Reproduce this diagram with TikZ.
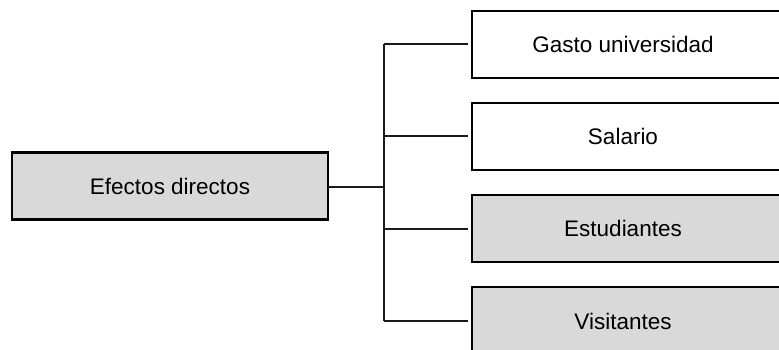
\documentclass[tikz,border=0pt]{standalone}
\usepackage{fontspec}
\setmainfont{Liberation Sans}
\begin{document}
\begin{tikzpicture}[x=1pt,y=-1pt,
  boxline/.style={draw=black, line width=2.2pt},
  gbox/.style={boxline, fill=boxgray},
  wbox/.style={boxline, fill=white},
  rbox/.style={anchor=north west, minimum width=340pt, minimum height=67pt, inner sep=0pt, outer sep=0pt},
  lbl/.style={font=\fontsize{22.5pt}{26pt}\selectfont, inner sep=0pt},
  conn/.style={draw=black!90, line width=2pt}]
\definecolor{boxgray}{HTML}{D9D9D9}
\useasboundingbox (0,0) rectangle (779,350);
\clip (0,0) rectangle (779,350);
\fill[white] (0,0) rectangle (779,350);
% left box
\node[gbox, anchor=north west, minimum width=316pt, minimum height=67pt, inner sep=0pt, outer sep=0pt] (ed) at (12,152.5) {};
\node[lbl] (edt) at (ed.center) {Efectos directos};
% right boxes
\node[wbox, rbox] (g) at (472,11) {};
\node[wbox, rbox] (s) at (472,103) {};
\node[gbox, rbox] (e) at (472,195) {};
\node[gbox, rbox, minimum height=80pt] (v) at (472,287) {};
\node[lbl] (gt) at ([xshift=151pt]g.west) {Gasto universidad};
\node[lbl] (st) at ([xshift=151pt]s.west) {Salario};
\node[lbl] (et) at ([xshift=151pt]e.west) {Estudiantes};
\node[lbl] (vt) at (623,321) {Visitantes};
% connectors
\coordinate (j) at (383.5,186.5);
\coordinate (jt) at (383.5,44.5);
\coordinate (jb) at (383.5,321);
\draw[conn] (ed.east |- j) -- (j);
\draw[conn] (jt) -- (jb);
\draw[conn] (jt) -- ([xshift=-4pt]jt -| g.west);
\draw[conn] (jt |- s.west) -- ([xshift=-4pt]s.west);
\draw[conn] (jt |- e.west) -- ([xshift=-4pt]e.west);
\draw[conn] (jb) -- ([xshift=-4pt]jb -| v.west);
\end{tikzpicture}
\end{document}
